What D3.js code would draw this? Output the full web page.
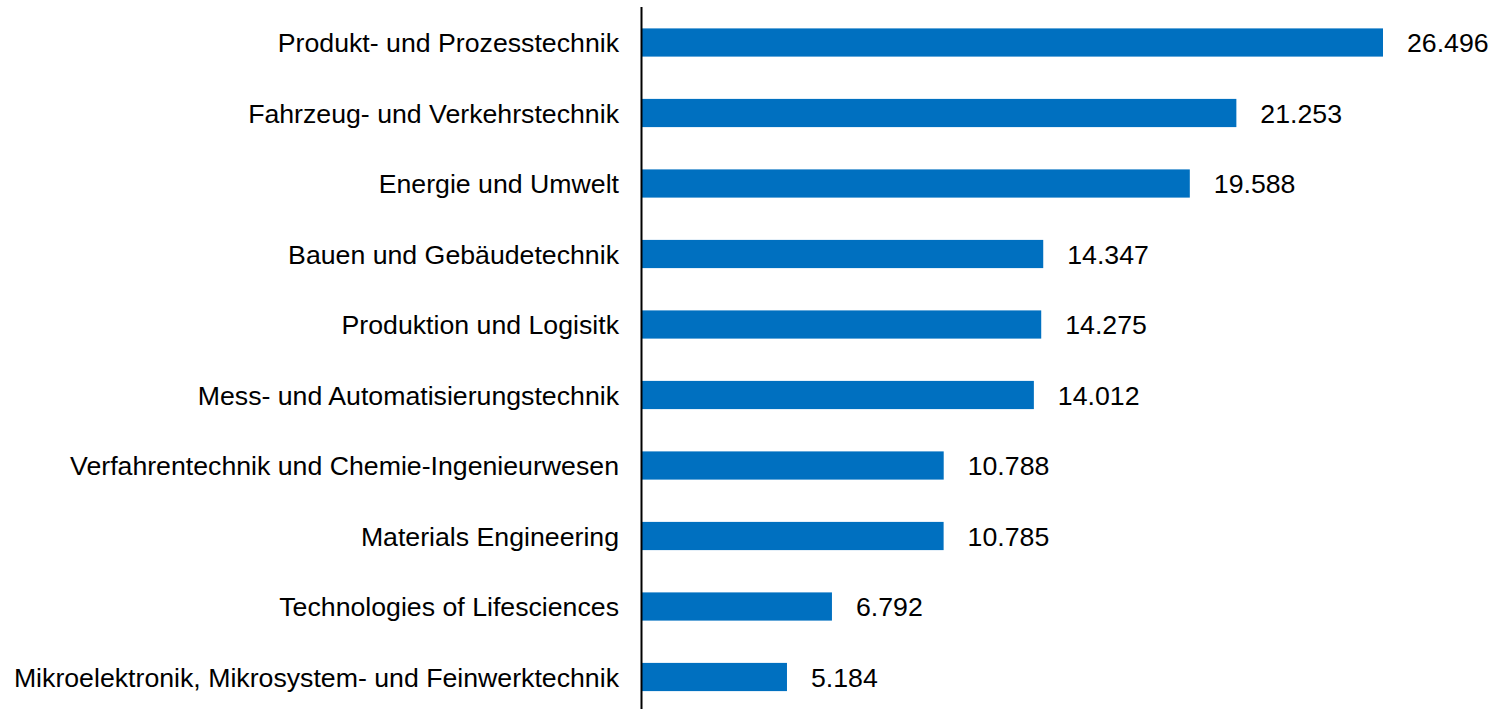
<!DOCTYPE html>
<html><head><meta charset="utf-8">
<script src="https://cdn.jsdelivr.net/npm/d3@7"></script>
<style>body{margin:0;background:#fff;} svg{display:block;} text{font-family:"Liberation Sans",Arial,sans-serif;fill:#000;}</style>
</head><body><svg id="c" width="1491" height="709"></svg>
<script>
const categories = ["Produkt- und Prozesstechnik","Fahrzeug- und Verkehrstechnik","Energie und Umwelt","Bauen und Gebäudetechnik","Produktion und Logisitk","Mess- und Automatisierungstechnik","Verfahrentechnik und Chemie-Ingenieurwesen","Materials Engineering","Technologies of Lifesciences","Mikroelektronik, Mikrosystem- und Feinwerktechnik"];
const values = [26.496,21.253,19.588,14.347,14.275,14.012,10.788,10.785,6.792,5.184];
const labels = ["26.496","21.253","19.588","14.347","14.275","14.012","10.788","10.785","6.792","5.184"];

const svg = d3.select("#c");
const x0 = 642, x1 = 1383;
const x = d3.scaleLinear().domain([0, 26.496]).range([x0, x1]);
const y = d3.scaleBand().domain(categories).range([7.25, 712.25]).paddingInner(0.6).paddingOuter(0.3);
const fs = 26.7;

svg.selectAll("rect.bar").data(values).join("rect")
  .attr("x", x(0)).attr("y", (d,i)=>y(categories[i]))
  .attr("width", d=>x(d)-x(0)).attr("height", y.bandwidth())
  .attr("fill", "#0070C0");

svg.selectAll("text.cat").data(categories).join("text")
  .attr("class","cat")
  .attr("x", x0 - 23).attr("y", d=>y(d)+y.bandwidth()/2)
  .attr("dy","0.36em").attr("text-anchor","end").style("font-size", fs+"px")
  .text(d=>d);

svg.selectAll("text.val").data(values).join("text")
  .attr("class","val")
  .attr("x", d=>x(d)+24).attr("y", (d,i)=>y(categories[i])+y.bandwidth()/2)
  .attr("dy","0.36em").style("font-size", fs+"px")
  .text((d,i)=>labels[i]);

svg.append("line").attr("x1", x0-0.5).attr("x2", x0-0.5).attr("y1", 7).attr("y2", 709)
  .attr("stroke","#000").attr("stroke-width",2);
</script></body></html>
